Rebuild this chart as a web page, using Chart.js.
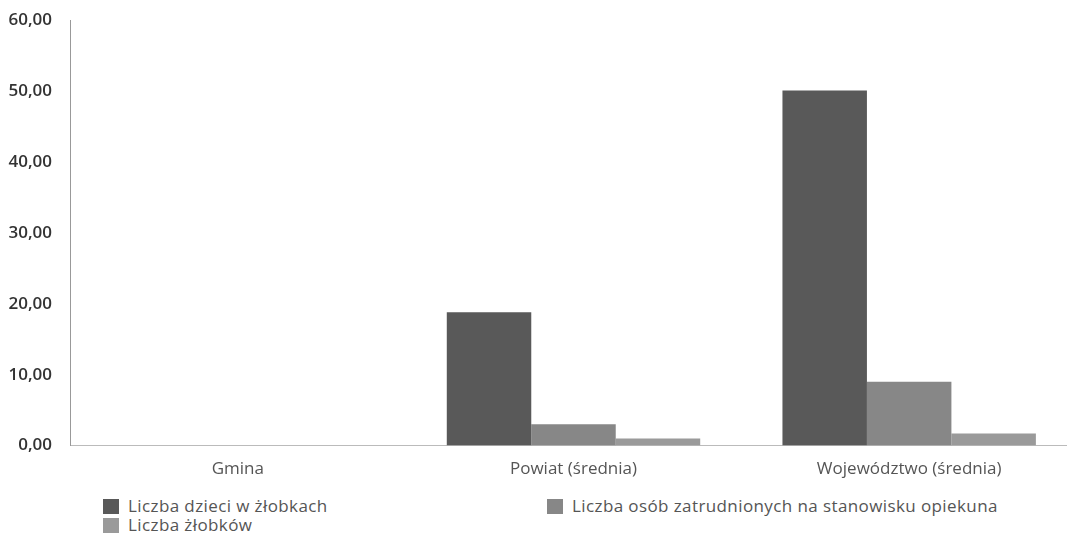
<!DOCTYPE html>
<html>
<head>
<meta charset="utf-8">
<script src="https://cdn.jsdelivr.net/npm/chart.js@4/dist/chart.umd.min.js"></script>
<style>
    body { margin: 0; background: #fff; font-family: 'Open Sans', sans-serif; overflow: hidden; }
    #wrap { position: absolute; left: 0; top: 0; width: 1077px; height: 484px; }
    .legend { position: absolute; font-size: 17px; letter-spacing: 0.4px; color: #555; line-height: 19px; }
    .legend span.sw { display: inline-block; width: 16px; height: 15px; margin-right: 9px; vertical-align: -2px; }
</style>
</head>
<body>
<div id="wrap"><canvas id="chart"></canvas></div>
<div class="legend" style="left:103px; top:496px;"><span class="sw" style="background:#595959"></span>Liczba dzieci w żłobkach</div>
<div class="legend" style="left:103px; top:515px;"><span class="sw" style="background:#9a9a9a"></span>Liczba żłobków</div>
<div class="legend" style="left:547px; top:496px;"><span class="sw" style="background:#878787"></span>Liczba osób zatrudnionych na stanowisku opiekuna</div>
<script>
const categories = ['Gmina', 'Powiat (średnia)', 'Województwo (średnia)'];
const dzieci = [0, 18.8, 50.1];
const opiekunowie = [0, 3.0, 9.0];
const zlobki = [0, 1.0, 1.7];

const fmt = v => v.toFixed(2).replace('.', ',');

new Chart(document.getElementById('chart'), {
    type: 'bar',
    data: {
        labels: categories,
        datasets: [
            { label: 'Liczba dzieci w żłobkach', data: dzieci, backgroundColor: '#595959' },
            { label: 'Liczba osób zatrudnionych na stanowisku opiekuna', data: opiekunowie, backgroundColor: '#878787' },
            { label: 'Liczba żłobków', data: zlobki, backgroundColor: '#9a9a9a' }
        ]
    },
    options: {
        responsive: true,
        maintainAspectRatio: false,
        animation: false,
        layout: { padding: { top: 16, right: 0, left: 0, bottom: 0 } },
        datasets: { bar: { categoryPercentage: 0.755, barPercentage: 1.0 } },
        scales: {
            x: {
                grid: { display: false },
                border: { color: '#bbb' },
                ticks: { color: '#555', font: { family: 'Open Sans', size: 17 }, padding: 5 }
            },
            y: {
                min: 0, max: 60,
                grid: { display: false },
                border: { color: '#999' },
                afterFit: s => { s.width = 70; },
                ticks: { stepSize: 10, color: '#333', font: { family: 'Open Sans', size: 17, weight: '600' }, padding: 10, callback: v => fmt(v) }
            }
        },
        plugins: {
            legend: { display: false },
            tooltip: { enabled: false }
        }
    }
});
</script>
</body>
</html>
